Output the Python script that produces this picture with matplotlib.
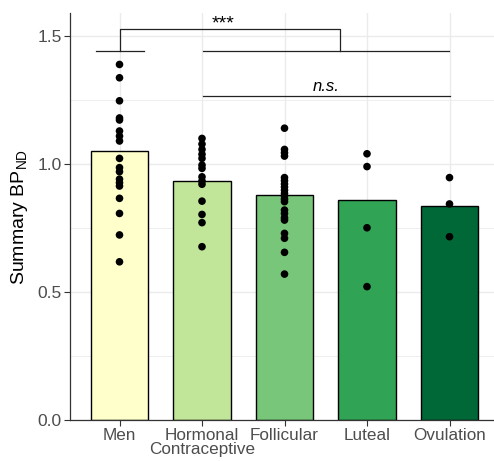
import matplotlib
matplotlib.use("Agg")
import matplotlib.pyplot as plt
from matplotlib.ticker import MultipleLocator

plt.rcParams["font.family"] = ["Liberation Sans", "DejaVu Sans"]
plt.rcParams["mathtext.fontset"] = "custom"
plt.rcParams["mathtext.rm"] = "Liberation Sans"
plt.rcParams["mathtext.it"] = "Liberation Sans:italic"

# group labels, summary bar heights and individual subject values
groups = ["Men", "Hormonal\nContraceptive", "Follicular", "Luteal", "Ovulation"]
bar_means = [1.051, 0.935, 0.878, 0.859, 0.836]
bar_colors = ["#FFFFCC", "#C2E699", "#78C679", "#31A354", "#006837"]

men = [1.389, 1.337, 1.247, 1.180, 1.172, 1.129, 1.109, 1.090, 1.022,
       0.986, 0.970, 0.941, 0.927, 0.914, 0.866, 0.807, 0.723, 0.618]
hormonal = [1.100, 1.078, 1.057, 1.038, 1.022, 0.996, 0.983, 0.950,
            0.934, 0.921, 0.855, 0.803, 0.771, 0.677]
follicular = [1.140, 1.057, 1.044, 1.031, 0.947, 0.935, 0.922, 0.910,
              0.898, 0.885, 0.875, 0.863, 0.853, 0.820, 0.807, 0.790,
              0.781, 0.729, 0.710, 0.655, 0.570]
luteal = [1.040, 0.990, 0.751, 0.521]
ovulation = [0.947, 0.844, 0.716]
points = [men, hormonal, follicular, luteal, ovulation]

fig = plt.figure(figsize=(4.94, 4.61), dpi=100)
# panel runs past the right edge of the image, as in the reference
ax = fig.add_axes([70 / 494, 41 / 461, 429 / 494, 407 / 461])

xpos = list(range(1, len(groups) + 1))

# grid, ggplot-like
ax.set_axisbelow(True)
ax.yaxis.set_major_locator(MultipleLocator(0.5))
ax.yaxis.set_minor_locator(MultipleLocator(0.25))
ax.grid(which="major", color="#EBEBEB", linewidth=1.0)
ax.grid(which="minor", axis="y", color="#EBEBEB", linewidth=0.6)

ax.bar(xpos, bar_means, width=0.7, color=bar_colors, edgecolor="black",
       linewidth=1.0, zorder=2)

for x, vals in zip(xpos, points):
    ax.scatter([x] * len(vals), vals, s=30, color="black", zorder=3,
               edgecolors="none")

# significance brackets
lc = "#222222"
ax.plot([0.71, 1.30], [1.441, 1.441], color=lc, lw=0.9)
ax.plot([1, 1, 3.667, 3.667], [1.441, 1.527, 1.527, 1.441], color=lc, lw=0.9)
ax.plot([2.01, 4.99], [1.441, 1.441], color=lc, lw=0.9)
ax.text(2.26, 1.548, "***", ha="center", va="center", fontsize=14)
ax.plot([2.01, 5.01], [1.267, 1.267], color=lc, lw=0.9)
ax.text(3.5, 1.275, "n.s.", ha="center", va="bottom", fontsize=12,
        style="italic")

ax.set_xlim(0.4, 5.6)
ax.set_ylim(0, 1.59)
ax.set_xticks(xpos)
ax.set_xticklabels(groups, fontsize=12.3, color="#4D4D4D", linespacing=0.9)
ax.set_yticks([0, 0.5, 1.0, 1.5])
ax.set_yticklabels(["0.0", "0.5", "1.0", "1.5"], fontsize=12.5, color="#4D4D4D")
ax.tick_params(axis="both", which="major", length=4, color="#333333", width=0.8)
ax.tick_params(axis="y", which="minor", length=0)
ax.tick_params(axis="x", pad=2)
ax.tick_params(axis="y", pad=2)
ax.set_ylabel("Summary BP$_{\\mathrm{ND}}$", fontsize=14, labelpad=5)

for side in ["top", "right"]:
    ax.spines[side].set_visible(False)
for side in ["left", "bottom"]:
    ax.spines[side].set_color("#333333")
    ax.spines[side].set_linewidth(0.9)

fig.savefig("out.png", dpi=100)
